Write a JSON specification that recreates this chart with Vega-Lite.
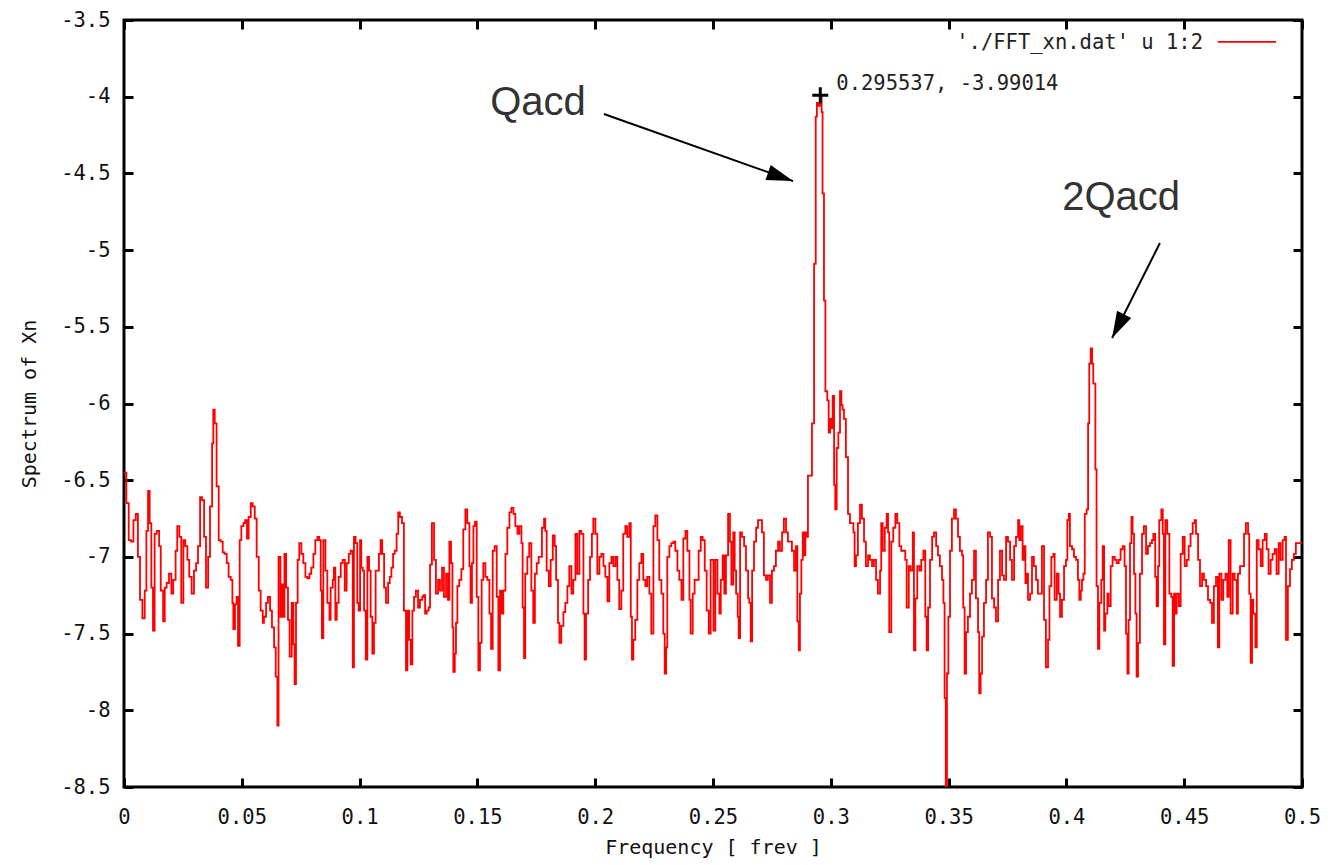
{
"$schema":"https://vega.github.io/schema/vega-lite/v6.json",
"width":1178,"height":767,
"autosize":{"type":"none"},
"padding":{"left":124,"top":20,"right":33,"bottom":78},
"background":"white",
"config":{"view":{"stroke":"black","strokeWidth":3},
"axis":{"domain":false,"grid":false,"labelFont":"DejaVu Sans Mono","labelFontSize":20.5,"labelColor":"#111","titleFont":"DejaVu Sans Mono","titleFontSize":20,"titleFontWeight":"normal","titleColor":"#111","tickColor":"black","tickWidth":3,"tickSize":-9,"labelFlush":false,"labelOverlap":false,"labelBound":false}},
"datasets":{
"spec":[
{"f":0,"v":-6.45},{"f":0.001,"v":-6.65},{"f":0.002,"v":-6.89},{"f":0.003,"v":-6.90},{"f":0.004,"v":-6.76},{"f":0.005,"v":-6.72},{"f":0.0059,"v":-7.00},{"f":0.0068,"v":-7.28},{"f":0.0078,"v":-7.40},{"f":0.0088,"v":-7.22},{"f":0.0095,"v":-6.83},{"f":0.0102,"v":-6.57},{"f":0.0109,"v":-6.78},{"f":0.0116,"v":-7.20},{"f":0.0123,"v":-7.48},{"f":0.013,"v":-6.85},{"f":0.0139,"v":-6.83},{"f":0.0149,"v":-6.93},{"f":0.0156,"v":-7.22},{"f":0.0166,"v":-7.42},{"f":0.0173,"v":-7.20},{"f":0.0181,"v":-7.17},{"f":0.0191,"v":-7.11},{"f":0.0201,"v":-7.24},{"f":0.0209,"v":-7.15},{"f":0.0219,"v":-6.96},{"f":0.0226,"v":-6.80},{"f":0.0235,"v":-6.87},{"f":0.0243,"v":-7.30},{"f":0.0252,"v":-6.89},{"f":0.026,"v":-6.93},{"f":0.0269,"v":-7.02},{"f":0.0277,"v":-7.13},{"f":0.0287,"v":-7.24},{"f":0.0297,"v":-7.09},{"f":0.0306,"v":-7.04},{"f":0.0314,"v":-6.93},{"f":0.0323,"v":-6.61},{"f":0.0331,"v":-6.63},{"f":0.034,"v":-6.87},{"f":0.0348,"v":-7.20},{"f":0.0357,"v":-7.00},{"f":0.0365,"v":-6.67},{"f":0.0374,"v":-6.26},{"f":0.0379,"v":-6.04},{"f":0.0385,"v":-6.13},{"f":0.0393,"v":-6.54},{"f":0.0402,"v":-6.89},{"f":0.041,"v":-6.90},{"f":0.0419,"v":-6.97},{"f":0.0427,"v":-6.98},{"f":0.0436,"v":-7.04},{"f":0.0444,"v":-7.13},{"f":0.0453,"v":-7.15},{"f":0.046,"v":-7.30},{"f":0.0464,"v":-7.47},{"f":0.0471,"v":-7.31},{"f":0.0478,"v":-7.26},{"f":0.0484,"v":-7.58},{"f":0.0491,"v":-6.89},{"f":0.0498,"v":-6.80},{"f":0.0507,"v":-6.78},{"f":0.0514,"v":-6.76},{"f":0.0522,"v":-6.88},{"f":0.0529,"v":-6.74},{"f":0.0538,"v":-6.65},{"f":0.0546,"v":-6.67},{"f":0.0555,"v":-6.75},{"f":0.0563,"v":-7.00},{"f":0.0572,"v":-7.22},{"f":0.058,"v":-7.35},{"f":0.0589,"v":-7.43},{"f":0.0594,"v":-7.39},{"f":0.0603,"v":-7.30},{"f":0.0611,"v":-7.26},{"f":0.062,"v":-7.35},{"f":0.0628,"v":-7.46},{"f":0.0637,"v":-7.59},{"f":0.0644,"v":-7.78},{"f":0.0651,"v":-8.10},{"f":0.0656,"v":-7.00},{"f":0.0664,"v":-7.39},{"f":0.0669,"v":-7.18},{"f":0.0675,"v":-7.39},{"f":0.0681,"v":-6.98},{"f":0.0688,"v":-7.20},{"f":0.0696,"v":-7.41},{"f":0.0703,"v":-7.65},{"f":0.0712,"v":-7.30},{"f":0.0719,"v":-7.57},{"f":0.0724,"v":-7.83},{"f":0.073,"v":-7.30},{"f":0.0737,"v":-7.02},{"f":0.0744,"v":-6.91},{"f":0.0753,"v":-6.98},{"f":0.0761,"v":-7.04},{"f":0.077,"v":-7.13},{"f":0.0778,"v":-7.14},{"f":0.0787,"v":-7.11},{"f":0.0795,"v":-7.07},{"f":0.0804,"v":-6.98},{"f":0.0812,"v":-6.89},{"f":0.0821,"v":-6.87},{"f":0.0829,"v":-6.89},{"f":0.0835,"v":-7.22},{"f":0.084,"v":-7.53},{"f":0.0846,"v":-6.89},{"f":0.0855,"v":-7.09},{"f":0.0863,"v":-7.30},{"f":0.0872,"v":-7.41},{"f":0.0877,"v":-7.20},{"f":0.0886,"v":-7.15},{"f":0.0891,"v":-7.07},{"f":0.0897,"v":-7.41},{"f":0.0903,"v":-7.30},{"f":0.0911,"v":-7.13},{"f":0.092,"v":-7.04},{"f":0.0928,"v":-7.02},{"f":0.0937,"v":-7.22},{"f":0.0945,"v":-7.04},{"f":0.0954,"v":-6.98},{"f":0.0962,"v":-6.96},{"f":0.0971,"v":-7.72},{"f":0.0976,"v":-6.87},{"f":0.0983,"v":-6.91},{"f":0.099,"v":-7.30},{"f":0.0996,"v":-7.35},{"f":0.1002,"v":-6.89},{"f":0.1007,"v":-7.07},{"f":0.1013,"v":-7.09},{"f":0.1019,"v":-7.35},{"f":0.1026,"v":-7.67},{"f":0.1033,"v":-7.00},{"f":0.104,"v":-7.09},{"f":0.1047,"v":-7.39},{"f":0.1054,"v":-7.63},{"f":0.1061,"v":-7.43},{"f":0.1068,"v":-7.09},{"f":0.1075,"v":-7.09},{"f":0.1082,"v":-6.98},{"f":0.1089,"v":-6.89},{"f":0.1096,"v":-6.98},{"f":0.1104,"v":-7.20},{"f":0.1112,"v":-7.30},{"f":0.1121,"v":-7.17},{"f":0.1128,"v":-7.13},{"f":0.1135,"v":-7.07},{"f":0.1142,"v":-6.98},{"f":0.1149,"v":-6.96},{"f":0.1157,"v":-6.85},{"f":0.1164,"v":-6.71},{"f":0.1171,"v":-6.74},{"f":0.118,"v":-6.78},{"f":0.1188,"v":-7.35},{"f":0.1197,"v":-7.74},{"f":0.1203,"v":-7.35},{"f":0.121,"v":-7.54},{"f":0.1217,"v":-7.70},{"f":0.1224,"v":-7.35},{"f":0.1231,"v":-7.26},{"f":0.1239,"v":-7.22},{"f":0.1248,"v":-7.33},{"f":0.1256,"v":-7.28},{"f":0.1266,"v":-7.26},
{"f":0.1271,"v":-7.25},{"f":0.1278,"v":-7.37},{"f":0.1285,"v":-7.35},{"f":0.1293,"v":-7.33},{"f":0.1299,"v":-7.05},{"f":0.1307,"v":-6.78},{"f":0.1316,"v":-7.02},{"f":0.1324,"v":-7.24},{"f":0.1333,"v":-7.15},{"f":0.1341,"v":-7.22},{"f":0.135,"v":-7.07},{"f":0.1358,"v":-7.26},{"f":0.1367,"v":-7.11},{"f":0.1375,"v":-7.28},{"f":0.1381,"v":-6.90},{"f":0.1388,"v":-7.04},{"f":0.1394,"v":-7.46},{"f":0.1398,"v":-7.75},{"f":0.1404,"v":-7.63},{"f":0.1409,"v":-7.43},{"f":0.1415,"v":-7.19},{"f":0.1423,"v":-7.15},{"f":0.1432,"v":-7.08},{"f":0.144,"v":-6.82},{"f":0.1449,"v":-6.69},{"f":0.1457,"v":-6.78},{"f":0.1466,"v":-7.06},{"f":0.1471,"v":-7.30},{"f":0.1477,"v":-7.04},{"f":0.1483,"v":-6.80},{"f":0.149,"v":-6.77},{"f":0.1497,"v":-7.26},{"f":0.1504,"v":-7.74},{"f":0.1511,"v":-7.56},{"f":0.1518,"v":-7.15},{"f":0.1525,"v":-7.04},{"f":0.1534,"v":-7.13},{"f":0.1542,"v":-7.15},{"f":0.1551,"v":-7.37},{"f":0.1558,"v":-7.60},{"f":0.1565,"v":-6.96},{"f":0.1573,"v":-6.93},{"f":0.1582,"v":-7.26},{"f":0.1589,"v":-7.74},{"f":0.1596,"v":-7.22},{"f":0.1603,"v":-7.37},{"f":0.161,"v":-7.22},{"f":0.1619,"v":-6.98},{"f":0.1627,"v":-6.81},{"f":0.1636,"v":-6.71},{"f":0.1644,"v":-6.68},{"f":0.1653,"v":-6.72},{"f":0.1661,"v":-6.80},{"f":0.167,"v":-6.85},{"f":0.1678,"v":-6.80},{"f":0.1687,"v":-6.91},{"f":0.1692,"v":-7.33},{"f":0.1698,"v":-7.66},{"f":0.1703,"v":-7.11},{"f":0.1712,"v":-7.00},{"f":0.172,"v":-6.91},{"f":0.1729,"v":-7.22},{"f":0.1737,"v":-7.43},{"f":0.1744,"v":-7.11},{"f":0.1752,"v":-7.04},{"f":0.176,"v":-7.00},{"f":0.1769,"v":-7.00},{"f":0.1774,"v":-6.81},{"f":0.1783,"v":-6.75},{"f":0.1788,"v":-6.83},{"f":0.1794,"v":-7.09},{"f":0.1803,"v":-7.19},{"f":0.1811,"v":-7.02},{"f":0.182,"v":-6.86},{"f":0.1828,"v":-6.93},{"f":0.1834,"v":-7.15},{"f":0.1842,"v":-7.43},{"f":0.1848,"v":-7.56},{"f":0.1856,"v":-7.45},{"f":0.1865,"v":-7.36},{"f":0.1873,"v":-7.30},{"f":0.1882,"v":-7.19},{"f":0.189,"v":-7.06},{"f":0.1899,"v":-7.24},{"f":0.1907,"v":-7.15},{"f":0.1916,"v":-6.85},{"f":0.1924,"v":-7.11},{"f":0.1933,"v":-6.83},{"f":0.1941,"v":-6.85},{"f":0.195,"v":-7.37},{"f":0.1955,"v":-7.67},{"f":0.1961,"v":-7.37},{"f":0.197,"v":-7.15},{"f":0.1978,"v":-7.00},{"f":0.1986,"v":-6.85},{"f":0.1992,"v":-6.75},{"f":0.2001,"v":-6.85},{"f":0.2009,"v":-7.11},{"f":0.2018,"v":-7.00},{"f":0.2026,"v":-6.98},{"f":0.2035,"v":-7.06},{"f":0.2043,"v":-7.13},{"f":0.2052,"v":-7.29},{"f":0.206,"v":-7.04},{"f":0.2069,"v":-7.00},{"f":0.2077,"v":-7.06},{"f":0.2086,"v":-7.00},{"f":0.2094,"v":-7.15},{"f":0.2102,"v":-7.34},{"f":0.2111,"v":-7.22},{"f":0.2119,"v":-6.85},{"f":0.2128,"v":-6.80},{"f":0.2136,"v":-6.87},{"f":0.2145,"v":-6.78},{"f":0.2151,"v":-7.39},{"f":0.2156,"v":-7.67},{"f":0.2162,"v":-7.54},{"f":0.217,"v":-7.41},{"f":0.2179,"v":-7.15},{"f":0.2187,"v":-7.04},{"f":0.2196,"v":-6.98},{"f":0.2204,"v":-7.15},{"f":0.2213,"v":-7.19},{"f":0.2221,"v":-7.13},{"f":0.223,"v":-7.24},{"f":0.2238,"v":-7.50},{"f":0.2247,"v":-6.80},{"f":0.2255,"v":-6.73},{"f":0.2264,"v":-6.89},{"f":0.2272,"v":-7.15},{"f":0.2281,"v":-7.24},{"f":0.2289,"v":-7.50},{"f":0.2295,"v":-7.76},{"f":0.2301,"v":-7.59},{"f":0.2306,"v":-7.00},{"f":0.2315,"v":-6.93},{"f":0.2323,"v":-6.91},{"f":0.2332,"v":-6.90},{"f":0.234,"v":-6.96},{"f":0.2349,"v":-7.09},{"f":0.2357,"v":-7.15},{"f":0.2366,"v":-7.28},{"f":0.2374,"v":-6.88},{"f":0.2383,"v":-6.83},{"f":0.2391,"v":-6.96},{"f":0.24,"v":-7.28},{"f":0.2405,"v":-7.50},{"f":0.2414,"v":-7.24},{"f":0.2422,"v":-7.15},{"f":0.2431,"v":-7.15},{"f":0.2439,"v":-6.96},{"f":0.2448,"v":-6.87},{"f":0.2456,"v":-6.89},{"f":0.2465,"v":-7.09},{"f":0.2473,"v":-7.35},{"f":0.2482,"v":-7.50},{"f":0.249,"v":-7.02},{"f":0.2496,"v":-7.02},{"f":0.2502,"v":-7.48},{"f":0.251,"v":-7.02},{"f":0.2519,"v":-7.24},{"f":0.2527,"v":-7.37},
{"f":0.2533,"v":-7.15},{"f":0.2541,"v":-6.99},{"f":0.2548,"v":-7.24},{"f":0.2555,"v":-6.99},{"f":0.2564,"v":-6.72},{"f":0.2572,"v":-6.90},{"f":0.2578,"v":-7.18},{"f":0.2586,"v":-6.84},{"f":0.2592,"v":-7.09},{"f":0.2598,"v":-7.24},{"f":0.2605,"v":-7.39},{"f":0.2609,"v":-7.53},{"f":0.2615,"v":-6.84},{"f":0.2623,"v":-6.87},{"f":0.2632,"v":-6.93},{"f":0.264,"v":-7.09},{"f":0.2649,"v":-7.27},{"f":0.2654,"v":-7.30},{"f":0.266,"v":-7.55},{"f":0.2666,"v":-7.09},{"f":0.2674,"v":-6.90},{"f":0.2683,"v":-6.81},{"f":0.2691,"v":-6.76},{"f":0.2699,"v":-6.76},{"f":0.2708,"v":-6.84},{"f":0.2716,"v":-7.12},{"f":0.2725,"v":-7.15},{"f":0.2733,"v":-7.12},{"f":0.2742,"v":-7.30},{"f":0.275,"v":-7.09},{"f":0.2759,"v":-7.06},{"f":0.2767,"v":-6.96},{"f":0.2776,"v":-6.90},{"f":0.2784,"v":-6.96},{"f":0.2793,"v":-6.84},{"f":0.2801,"v":-6.75},{"f":0.281,"v":-6.84},{"f":0.2818,"v":-6.90},{"f":0.2827,"v":-6.90},{"f":0.2835,"v":-6.96},{"f":0.2844,"v":-7.09},{"f":0.2852,"v":-6.93},{"f":0.2858,"v":-7.42},{"f":0.2864,"v":-7.61},{"f":0.2869,"v":-7.24},{"f":0.2875,"v":-7.02},{"f":0.2881,"v":-6.84},{"f":0.2886,"v":-6.99},{"f":0.2892,"v":-6.84},{"f":0.2898,"v":-6.87},{"f":0.2903,"v":-6.47},{"f":0.2912,"v":-6.47},{"f":0.292,"v":-6.13},{"f":0.2929,"v":-5.09},{"f":0.2936,"v":-4.13},{"f":0.2941,"v":-4.04},{"f":0.2948,"v":-4.06},{"f":0.2955,"v":-3.99},{"f":0.2961,"v":-4.10},{"f":0.2965,"v":-4.63},{"f":0.2971,"v":-5.33},{"f":0.2977,"v":-5.92},{"f":0.2985,"v":-5.98},{"f":0.2991,"v":-6.19},{"f":0.2997,"v":-6.10},{"f":0.3002,"v":-6.16},{"f":0.3008,"v":-5.95},{"f":0.3014,"v":-6.53},{"f":0.3019,"v":-6.69},{"f":0.3025,"v":-6.29},{"f":0.3032,"v":-6.19},{"f":0.3039,"v":-5.92},{"f":0.3045,"v":-6.01},{"f":0.305,"v":-6.04},{"f":0.3056,"v":-6.10},{"f":0.3064,"v":-6.35},{"f":0.3073,"v":-6.72},{"f":0.3081,"v":-6.78},{"f":0.309,"v":-6.78},{"f":0.3096,"v":-6.84},{"f":0.3101,"v":-7.06},{"f":0.3107,"v":-6.99},{"f":0.3115,"v":-6.78},{"f":0.3124,"v":-6.66},{"f":0.3132,"v":-6.75},{"f":0.3141,"v":-6.90},{"f":0.3149,"v":-7.06},{"f":0.3158,"v":-6.99},{"f":0.3166,"v":-7.02},{"f":0.3175,"v":-7.06},{"f":0.3183,"v":-7.02},{"f":0.3192,"v":-7.15},{"f":0.32,"v":-7.24},{"f":0.3209,"v":-7.09},{"f":0.3214,"v":-6.78},{"f":0.322,"v":-6.96},{"f":0.3229,"v":-6.81},{"f":0.3237,"v":-6.72},{"f":0.3243,"v":-6.84},{"f":0.3248,"v":-7.49},{"f":0.3257,"v":-6.90},{"f":0.3265,"v":-6.81},{"f":0.3274,"v":-6.72},{"f":0.3282,"v":-6.78},{"f":0.3291,"v":-6.93},{"f":0.3299,"v":-6.96},{"f":0.3308,"v":-6.96},{"f":0.3316,"v":-7.02},{"f":0.3322,"v":-7.33},{"f":0.3331,"v":-7.06},{"f":0.3339,"v":-7.09},{"f":0.3348,"v":-6.84},{"f":0.3353,"v":-7.61},{"f":0.3359,"v":-7.27},{"f":0.3367,"v":-7.06},{"f":0.3376,"v":-7.09},{"f":0.3384,"v":-7.02},{"f":0.3393,"v":-6.96},{"f":0.3401,"v":-7.39},{"f":0.3407,"v":-7.61},{"f":0.3413,"v":-7.33},{"f":0.3421,"v":-7.02},{"f":0.343,"v":-6.87},{"f":0.3438,"v":-6.84},{"f":0.3447,"v":-6.93},{"f":0.3455,"v":-6.99},{"f":0.3463,"v":-7.06},{"f":0.3472,"v":-7.15},{"f":0.3478,"v":-7.30},{"f":0.3483,"v":-7.92},{"f":0.3488,"v":-8.50},{"f":0.3493,"v":-7.76},{"f":0.3499,"v":-7.39},{"f":0.3506,"v":-6.96},{"f":0.3514,"v":-6.75},{"f":0.3523,"v":-6.69},{"f":0.3531,"v":-6.75},{"f":0.354,"v":-6.87},{"f":0.3548,"v":-6.96},{"f":0.3557,"v":-6.99},{"f":0.3562,"v":-7.33},{"f":0.3568,"v":-7.76},{"f":0.3574,"v":-7.49},{"f":0.3582,"v":-7.39},{"f":0.3591,"v":-7.24},{"f":0.3599,"v":-7.15},{"f":0.3608,"v":-6.96},{"f":0.3616,"v":-7.27},{"f":0.3625,"v":-7.49},{"f":0.363,"v":-7.89},{"f":0.3636,"v":-7.76},{"f":0.3642,"v":-7.52},{"f":0.365,"v":-7.30},{"f":0.3659,"v":-7.15},{"f":0.3667,"v":-6.84},{"f":0.3676,"v":-6.87},{"f":0.3684,"v":-7.27},{"f":0.3693,"v":-7.33},{"f":0.3701,"v":-7.42},{"f":0.371,"v":-7.15},{"f":0.3718,"v":-6.96},{"f":0.3727,"v":-7.12},{"f":0.3735,"v":-7.15},{"f":0.3744,"v":-6.87},{"f":0.3752,"v":-6.90},{"f":0.3761,"v":-7.02},{"f":0.3769,"v":-7.15},{"f":0.3778,"v":-6.93},{"f":0.3786,"v":-6.87},
{"f":0.3795,"v":-6.76},{"f":0.38,"v":-6.89},{"f":0.3806,"v":-6.80},{"f":0.3814,"v":-7.02},{"f":0.382,"v":-6.93},{"f":0.3826,"v":-7.17},{"f":0.3831,"v":-7.11},{"f":0.3837,"v":-7.28},{"f":0.3846,"v":-7.24},{"f":0.3854,"v":-7.00},{"f":0.3862,"v":-7.06},{"f":0.3871,"v":-7.15},{"f":0.3879,"v":-7.24},{"f":0.3888,"v":-7.24},{"f":0.3896,"v":-6.93},{"f":0.3905,"v":-7.41},{"f":0.3913,"v":-7.72},{"f":0.3922,"v":-7.54},{"f":0.3928,"v":-7.19},{"f":0.3936,"v":-7.00},{"f":0.3945,"v":-6.98},{"f":0.395,"v":-7.28},{"f":0.3959,"v":-7.11},{"f":0.3967,"v":-7.24},{"f":0.3973,"v":-7.39},{"f":0.3981,"v":-7.28},{"f":0.399,"v":-7.06},{"f":0.3998,"v":-7.02},{"f":0.4004,"v":-6.76},{"f":0.401,"v":-6.72},{"f":0.4015,"v":-6.93},{"f":0.4024,"v":-6.95},{"f":0.4032,"v":-7.00},{"f":0.4041,"v":-7.02},{"f":0.4049,"v":-7.15},{"f":0.4055,"v":-7.28},{"f":0.4061,"v":-7.22},{"f":0.4066,"v":-7.15},{"f":0.4072,"v":-7.11},{"f":0.4078,"v":-6.72},{"f":0.4086,"v":-6.69},{"f":0.4092,"v":-6.13},{"f":0.4097,"v":-5.74},{"f":0.4103,"v":-5.64},{"f":0.4109,"v":-5.74},{"f":0.4114,"v":-5.87},{"f":0.4123,"v":-6.43},{"f":0.4128,"v":-7.19},{"f":0.4134,"v":-7.60},{"f":0.414,"v":-7.30},{"f":0.4148,"v":-7.15},{"f":0.4154,"v":-6.93},{"f":0.416,"v":-7.48},{"f":0.4165,"v":-7.37},{"f":0.4174,"v":-7.24},{"f":0.4179,"v":-7.32},{"f":0.4188,"v":-7.06},{"f":0.4196,"v":-7.00},{"f":0.4205,"v":-7.02},{"f":0.4213,"v":-7.04},{"f":0.4222,"v":-7.02},{"f":0.423,"v":-6.95},{"f":0.4239,"v":-6.93},{"f":0.4247,"v":-7.06},{"f":0.4253,"v":-7.50},{"f":0.4259,"v":-7.76},{"f":0.4264,"v":-7.41},{"f":0.427,"v":-6.91},{"f":0.4276,"v":-6.74},{"f":0.4281,"v":-6.85},{"f":0.4287,"v":-7.11},{"f":0.4293,"v":-7.37},{"f":0.4298,"v":-7.78},{"f":0.4304,"v":-7.56},{"f":0.4312,"v":-7.11},{"f":0.4321,"v":-6.85},{"f":0.4329,"v":-6.80},{"f":0.4338,"v":-6.98},{"f":0.4346,"v":-6.93},{"f":0.4355,"v":-6.91},{"f":0.4363,"v":-6.89},{"f":0.4369,"v":-6.85},{"f":0.4377,"v":-7.13},{"f":0.4383,"v":-7.32},{"f":0.4389,"v":-7.06},{"f":0.4394,"v":-6.76},{"f":0.4403,"v":-6.69},{"f":0.4409,"v":-6.85},{"f":0.4414,"v":-7.57},{"f":0.442,"v":-6.76},{"f":0.4428,"v":-6.85},{"f":0.4437,"v":-7.24},{"f":0.4445,"v":-7.26},{"f":0.4451,"v":-7.71},{"f":0.4457,"v":-7.24},{"f":0.4462,"v":-7.37},{"f":0.4468,"v":-7.24},{"f":0.4477,"v":-7.32},{"f":0.4485,"v":-6.98},{"f":0.4494,"v":-6.87},{"f":0.4502,"v":-7.06},{"f":0.4511,"v":-7.02},{"f":0.4519,"v":-6.93},{"f":0.4527,"v":-6.85},{"f":0.4536,"v":-6.78},{"f":0.4544,"v":-6.76},{"f":0.455,"v":-6.85},{"f":0.4559,"v":-7.02},{"f":0.4567,"v":-7.19},{"f":0.4576,"v":-7.11},{"f":0.4584,"v":-7.15},{"f":0.4593,"v":-7.19},{"f":0.4601,"v":-7.28},{"f":0.461,"v":-7.30},{"f":0.4618,"v":-7.43},{"f":0.4626,"v":-7.19},{"f":0.4635,"v":-7.13},{"f":0.4643,"v":-7.59},{"f":0.4649,"v":-7.11},{"f":0.4658,"v":-7.28},{"f":0.4666,"v":-7.15},{"f":0.4675,"v":-7.11},{"f":0.4683,"v":-7.26},{"f":0.4689,"v":-6.89},{"f":0.4697,"v":-7.37},{"f":0.4706,"v":-7.11},{"f":0.4714,"v":-7.15},{"f":0.4723,"v":-7.37},{"f":0.4728,"v":-7.11},{"f":0.4737,"v":-7.06},{"f":0.4745,"v":-7.06},{"f":0.4754,"v":-6.85},{"f":0.4762,"v":-6.78},{"f":0.4771,"v":-6.85},{"f":0.4776,"v":-7.24},{"f":0.4782,"v":-7.69},{"f":0.4788,"v":-7.28},{"f":0.4793,"v":-7.37},{"f":0.4802,"v":-7.59},{"f":0.4808,"v":-6.89},{"f":0.4816,"v":-6.95},{"f":0.4825,"v":-7.06},{"f":0.4833,"v":-6.89},{"f":0.4842,"v":-6.85},{"f":0.485,"v":-6.95},{"f":0.4858,"v":-7.11},{"f":0.4867,"v":-7.02},{"f":0.4875,"v":-6.98},{"f":0.4884,"v":-6.95},{"f":0.4892,"v":-7.11},{"f":0.4901,"v":-6.91},{"f":0.4909,"v":-7.02},{"f":0.4918,"v":-6.89},{"f":0.4926,"v":-6.87},{"f":0.4932,"v":-7.54},{"f":0.494,"v":-7.19},{"f":0.4949,"v":-7.08},{"f":0.4957,"v":-7.02},{"f":0.4966,"v":-6.98},{"f":0.4974,"v":-6.91},{"f":0.4983,"v":-6.91},{"f":0.4991,"v":-6.91},{"f":0.5,"v":-6.91}
],
"labels":[{"f":0.1757,"v":-4.12,"t":"Qacd"},{"f":0.4232,"v":-4.74,"t":"2Qacd"}],
"arrow1":[{"f":0.2037,"v":-4.113,"f2":0.284,"v2":-4.55}],
"arrow2":[{"f":0.4397,"v":-4.954,"f2":0.4194,"v2":-5.573}],
"peak":[{"f":0.295537,"v":-3.99014,"t":"0.295537, -3.99014"}],
"legendtext":[{"f":0.458,"v":-3.689,"t":"'./FFT_xn.dat' u 1:2"}],
"legendline":[{"f":0.4643,"f2":0.489,"v":-3.643}]
},
"layer":[
{"data":{"name":"spec"},
 "mark":{"type":"line","color":"#ff0000","strokeWidth":1.8,"interpolate":"step-after","clip":true},
 "encoding":{
  "x":{"field":"f","type":"quantitative","scale":{"domain":[0,0.5],"nice":false,"zero":false},
   "axis":{"orient":"bottom","title":"Frequency [ frev ]","values":[0,0.05,0.1,0.15,0.2,0.25,0.3,0.35,0.4,0.45,0.5],"labelExpr":"toString(datum.value)","labelPadding":29,"titlePadding":10}},
  "y":{"field":"v","type":"quantitative","scale":{"domain":[-8.5,-3.5],"nice":false,"zero":false},
   "axis":{"orient":"left","title":"Spectrum of Xn","values":[-8.5,-8,-7.5,-7,-6.5,-6,-5.5,-5,-4.5,-4,-3.5],"labelExpr":"toString(datum.value)","labelPadding":23,"titlePadding":21}}}},
{"data":{"name":"peak"},
 "mark":{"type":"point","opacity":0},
 "encoding":{
  "x":{"field":"f","type":"quantitative","axis":{"orient":"top","labels":false,"title":null,"values":[0,0.05,0.1,0.15,0.2,0.25,0.3,0.35,0.4,0.45,0.5]}},
  "y":{"field":"v","type":"quantitative","axis":{"orient":"right","labels":false,"title":null,"values":[-8.5,-8,-7.5,-7,-6.5,-6,-5.5,-5,-4.5,-4,-3.5]}}}},
{"data":{"name":"labels"},
 "mark":{"type":"text","font":"Liberation Sans","fontSize":40,"color":"#333333","align":"center","baseline":"alphabetic"},
 "encoding":{"x":{"field":"f","type":"quantitative","axis":null},"y":{"field":"v","type":"quantitative","axis":null},"text":{"field":"t"}}},
{"data":{"name":"arrow1"},
 "layer":[
  {"mark":{"type":"rule","color":"black","strokeWidth":2},
   "encoding":{"x":{"field":"f","type":"quantitative","axis":null},"y":{"field":"v","type":"quantitative","axis":null},"x2":{"field":"f2"},"y2":{"field":"v2"}}},
  {"mark":{"type":"point","shape":"M0,0L-0.6,2L0.6,2Z","filled":true,"color":"black","opacity":1,"size":700,"angle":109},
   "encoding":{"x":{"field":"f2","type":"quantitative","axis":null},"y":{"field":"v2","type":"quantitative","axis":null}}}]},
{"data":{"name":"arrow2"},
 "layer":[
  {"mark":{"type":"rule","color":"black","strokeWidth":2},
   "encoding":{"x":{"field":"f","type":"quantitative","axis":null},"y":{"field":"v","type":"quantitative","axis":null},"x2":{"field":"f2"},"y2":{"field":"v2"}}},
  {"mark":{"type":"point","shape":"M0,0L-0.6,2L0.6,2Z","filled":true,"color":"black","opacity":1,"size":700,"angle":207},
   "encoding":{"x":{"field":"f2","type":"quantitative","axis":null},"y":{"field":"v2","type":"quantitative","axis":null}}}]},
{"data":{"name":"peak"},
 "layer":[
  {"mark":{"type":"point","shape":"M-1,0L1,0M0,-1L0,1","filled":false,"stroke":"black","strokeWidth":3,"opacity":1,"size":256},
   "encoding":{"x":{"field":"f","type":"quantitative","axis":null},"y":{"field":"v","type":"quantitative","axis":null}}},
  {"mark":{"type":"text","font":"DejaVu Sans Mono","fontSize":20.5,"color":"#222222","align":"left","baseline":"alphabetic","dx":16,"dy":-5},
   "encoding":{"x":{"field":"f","type":"quantitative","axis":null},"y":{"field":"v","type":"quantitative","axis":null},"text":{"field":"t"}}}]},
{"data":{"name":"legendtext"},
 "mark":{"type":"text","font":"DejaVu Sans Mono","fontSize":20.5,"color":"#222222","align":"right","baseline":"alphabetic"},
 "encoding":{"x":{"field":"f","type":"quantitative","axis":null},"y":{"field":"v","type":"quantitative","axis":null},"text":{"field":"t"}}},
{"data":{"name":"legendline"},
 "mark":{"type":"rule","color":"#ff0000","strokeWidth":1.8},
 "encoding":{"x":{"field":"f","type":"quantitative","axis":null},"x2":{"field":"f2"},"y":{"field":"v","type":"quantitative","axis":null}}}
],
"resolve":{"axis":{"x":"independent","y":"independent"}}
}
